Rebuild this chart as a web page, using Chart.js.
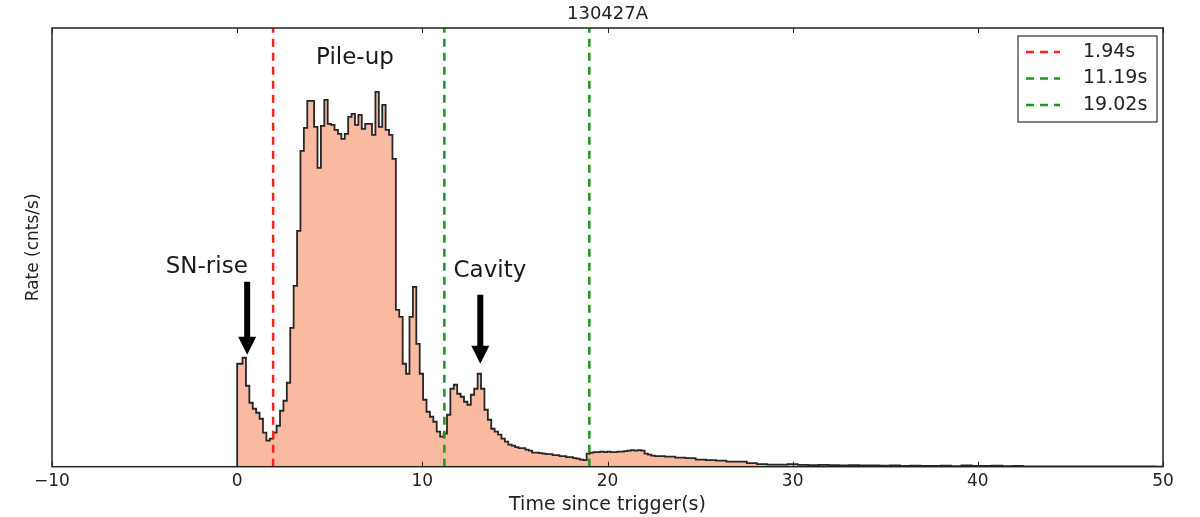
<!DOCTYPE html>
<html>
<head>
<meta charset="utf-8">
<title>130427A</title>
<script src="https://cdn.jsdelivr.net/npm/chart.js@4.4.1/dist/chart.umd.min.js"></script>
<style>
  html, body { margin: 0; padding: 0; background: #fff; }
  #chart { display: block; }
</style>
</head>
<body>
<canvas id="chart" width="1200" height="517"></canvas>
<script>
// Light curve of GRB 130427A (arbitrary rate units)
// first bin runs 0 -> firstBinEnd, the rest are binWidth wide
const firstBinEnd = 0.29;
const binWidth = 0.184;
const rateMain = [
  41, 103, 109, 81, 64, 58, 54, 48, 34, 26,
  28, 34, 41, 56, 66, 84, 139, 181, 236, 316,
  339, 366, 366, 340, 299, 341, 367, 343, 342, 337,
  333, 328, 333, 350, 353, 342, 352, 338, 343, 343,
  332, 375, 340, 362, 337, 332, 308, 157, 150, 103,
  93, 150, 180, 123, 93, 67, 55, 50, 45, 35,
  30, 33, 52, 78, 82, 73, 70, 65, 62, 72,
  78, 93, 78, 57, 47, 38, 35, 32, 28, 25,
  22, 21, 19.5, 18.5, 18.5, 17, 16, 14, 14,
  13.5, 13, 12.5, 12.5, 11.5, 11.5, 10.5, 10.5, 9.5, 9.5, 8.5, 8, 7, 6.5,
  13, 14, 14.5, 14.5, 15, 14.5, 15, 14.5, 14.5, 15, 15, 15.5, 16, 16.5, 16, 16.5, 16, 13, 12
];
// the slow tail is read with coarser bins
const tailWidth = 0.552;
const rateTail = [
  11, 10.5, 10, 9, 8.5, 7, 6.5, 6, 5, 5,
  3.5, 2.5, 2, 2, 2.5, 1.8, 1.6, 1.8, 1.5, 1.4,
  1.5, 1.3, 1.2, 1.0, 1.2, 0.8, 1.0, 0.7, 0.8, 1.0,
  0.6, 1.2, 0.9, 0.7, 1.0, 0.6, 0.9, 0.4, 0.3, 0.3,
  0.3, 0.3, 0.3, 0.3, 0.3, 0.3, 0.3, 0.3, 0.3, 0.3
];

const markerTimes = [1.94, 11.19, 19.02];
const markerColors = ['#ff2020', '#1e961e', '#1e961e'];

const xTicks = [-10, 0, 10, 20, 30, 40, 50];
const xRange = [-10, 50];
const yMax = 439;

// text labels [text, x, y] and arrows [x, tailY, tipY]
const labels = [
  ['SN-rise', -1.64, 200],
  ['Pile-up', 6.36, 409],
  ['Cavity', 13.65, 196]
];
const arrows = [
  [0.54, 185, 112],
  [13.13, 172, 103]
];

const FONT = "'DejaVu Sans', 'Liberation Sans', sans-serif";

function binStart(i) {
  return i === 0 ? 0 : firstBinEnd + (i - 1) * binWidth;
}

function buildSteps() {
  const pts = [{ x: 0, y: 0 }];
  rateMain.forEach((v, i) => pts.push({ x: binStart(i), y: v }));
  const tailStart = binStart(rateMain.length);
  rateTail.forEach((v, i) => pts.push({ x: tailStart + i * tailWidth, y: v }));
  pts.push({ x: tailStart + rateTail.length * tailWidth, y: 0 });
  return pts;
}

const datasets = markerTimes.map((t, i) => ({
  label: t.toFixed(2) + 's',
  data: [{ x: t, y: 0 }, { x: t, y: yMax }],
  borderColor: markerColors[i],
  borderDash: [8, 6],
  borderWidth: 2.5,
  pointRadius: 0,
  fill: false,
  order: 0
}));
datasets.push({
  label: 'rate',
  data: buildSteps(),
  stepped: 'after',
  borderColor: '#262626',
  borderWidth: 1.8,
  backgroundColor: '#f9baa1',
  fill: 'origin',
  pointRadius: 0,
  order: 1
});

function drawArrow(ctx, px, yTail, yTip) {
  const shaft = 6, head = 18, headLen = 18;
  const dir = yTip > yTail ? 1 : -1;
  const yBase = yTip - dir * headLen;
  ctx.beginPath();
  ctx.moveTo(px - shaft / 2, yTail);
  ctx.lineTo(px + shaft / 2, yTail);
  ctx.lineTo(px + shaft / 2, yBase);
  ctx.lineTo(px + head / 2, yBase);
  ctx.lineTo(px, yTip);
  ctx.lineTo(px - head / 2, yBase);
  ctx.lineTo(px - shaft / 2, yBase);
  ctx.closePath();
  ctx.fill();
}

const decorPlugin = {
  id: 'decor',
  afterDatasetsDraw(chart) {
    const { ctx, chartArea: a, scales: { x, y } } = chart;
    ctx.save();

    // axes frame with inward ticks
    ctx.strokeStyle = '#222';
    ctx.lineWidth = 1.5;
    ctx.strokeRect(a.left, a.top, a.right - a.left, a.bottom - a.top);
    ctx.lineWidth = 1;
    xTicks.forEach(v => {
      const px = Math.round(x.getPixelForValue(v)) + 0.5;
      ctx.beginPath();
      ctx.moveTo(px, a.bottom);
      ctx.lineTo(px, a.bottom - 5);
      ctx.moveTo(px, a.top);
      ctx.lineTo(px, a.top + 5);
      ctx.stroke();
    });

    // annotations
    ctx.fillStyle = '#1a1a1a';
    ctx.font = '23px ' + FONT;
    ctx.textAlign = 'center';
    ctx.textBaseline = 'middle';
    labels.forEach(([txt, tx, ty]) => {
      ctx.fillText(txt, x.getPixelForValue(tx), y.getPixelForValue(ty));
    });
    ctx.fillStyle = '#000';
    arrows.forEach(([tx, tail, tip]) => {
      drawArrow(ctx, x.getPixelForValue(tx), y.getPixelForValue(tail), y.getPixelForValue(tip));
    });

    // legend box (upper right, inside axes)
    const bw = 139, bh = 86;
    const bx = a.right - 6 - bw, by = a.top + 8;
    ctx.fillStyle = '#fff';
    ctx.fillRect(bx, by, bw, bh);
    ctx.strokeStyle = '#333';
    ctx.lineWidth = 1.2;
    ctx.strokeRect(bx, by, bw, bh);
    ctx.font = '19px ' + FONT;
    ctx.textAlign = 'left';
    ctx.textBaseline = 'middle';
    markerTimes.forEach((t, i) => {
      const ry = by + 16 + i * 26.5;
      ctx.strokeStyle = markerColors[i];
      ctx.lineWidth = 2.5;
      ctx.setLineDash([8, 6]);
      ctx.beginPath();
      ctx.moveTo(bx + 8, ry);
      ctx.lineTo(bx + 42, ry);
      ctx.stroke();
      ctx.setLineDash([]);
      ctx.fillStyle = '#222';
      ctx.fillText(datasets[i].label, bx + 65, ry);
    });

    // title
    ctx.font = '18px ' + FONT;
    ctx.textAlign = 'center';
    ctx.fillStyle = '#222';
    ctx.fillText('130427A', (a.left + a.right) / 2, 14);
    ctx.restore();
  }
};

new Chart(document.getElementById('chart'), {
  type: 'line',
  data: { datasets },
  options: {
    responsive: false,
    animation: false,
    devicePixelRatio: 1,
    layout: { padding: { top: 28, right: 37, left: 0, bottom: 0 } },
    plugins: {
      legend: { display: false },
      tooltip: { enabled: false },
      title: { display: false }
    },
    scales: {
      x: {
        type: 'linear',
        min: xRange[0],
        max: xRange[1],
        afterBuildTicks: scale => { scale.ticks = xTicks.map(v => ({ value: v })); },
        afterFit: scale => { scale.height = 50.3; },
        grid: { display: false },
        border: { display: false },
        ticks: {
          padding: -3,
          color: '#222',
          font: { family: FONT, size: 17 },
          maxRotation: 0,
          callback: v => (v < 0 ? '\u2212' + Math.abs(v) : String(v))
        },
        title: {
          display: true,
          text: 'Time since trigger(s)',
          color: '#222',
          font: { family: FONT, size: 19 },
          padding: { top: 0, bottom: 1 }
        }
      },
      y: {
        min: 0,
        max: yMax,
        afterFit: scale => { scale.width = 52; },
        grid: { display: false },
        border: { display: false },
        ticks: { display: false },
        title: {
          display: true,
          text: 'Rate (cnts/s)',
          color: '#222',
          font: { family: FONT, size: 17 },
          padding: { top: 23, bottom: 0 }
        }
      }
    }
  },
  plugins: [decorPlugin]
});
</script>
</body>
</html>
